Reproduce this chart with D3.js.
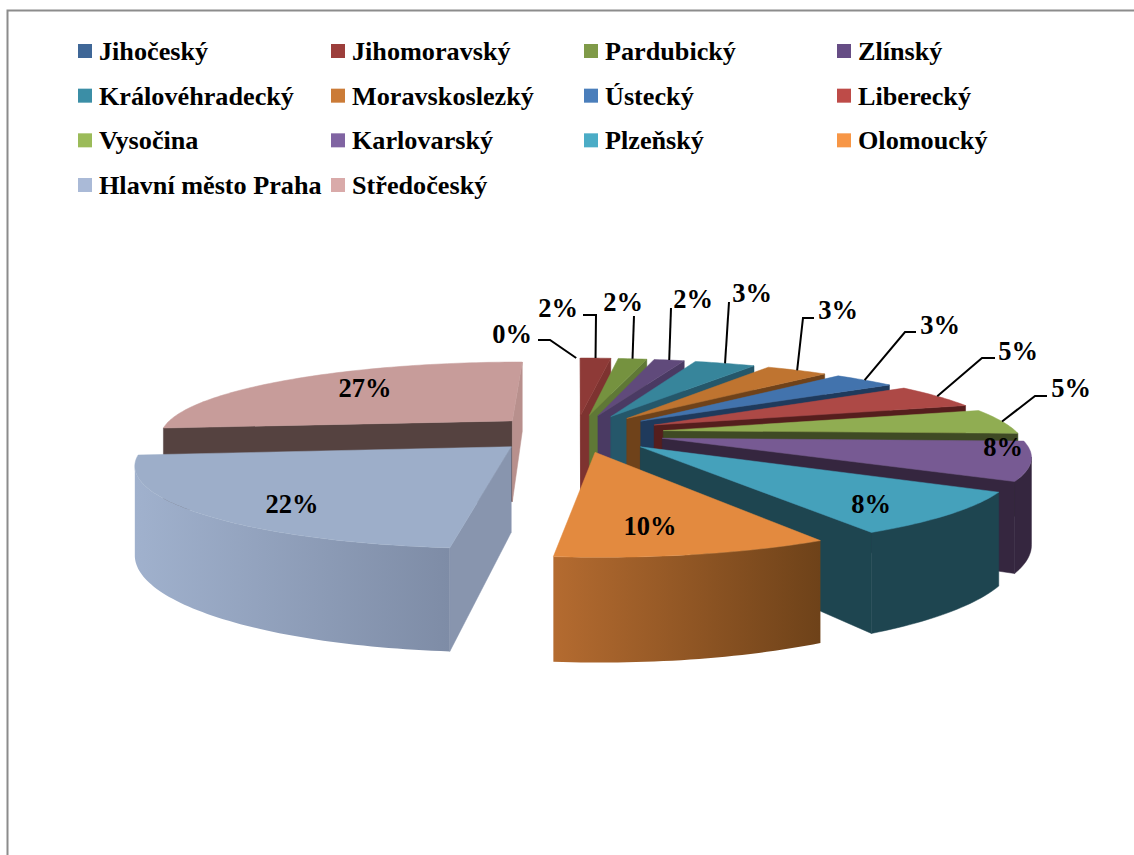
<!DOCTYPE html>
<html lang="en">
<head>
    <meta charset="UTF-8">
    <title>Kraje</title>
    <script src="https://cdn.jsdelivr.net/npm/d3@7"></script>
    <style>
        html, body { margin: 0; padding: 0; background: #fff; }
        svg { display: block; }
        text { font-family: "Liberation Serif", serif; font-weight: bold; fill: #000; }
    </style>
</head>
<body>
    <div id="chart-space"></div>

    <script>
        var regions = ["Jihočeský", "Jihomoravský", "Pardubický", "Zlínský",
            "Královéhradecký", "Moravskoslezký", "Ústecký", "Liberecký",
            "Vysočina", "Karlovarský", "Plzeňský", "Olomoucký",
            "Hlavní město Praha", "Středočeský"];

        // shares in percent
        var shares = [0.02, 1.7, 1.6, 1.7, 3.4, 3.45, 3.45, 5.05, 5.2, 7.83, 8.4, 9.8, 21.8, 26.6];

        var legendColors = ["#3f6797", "#9c3e3b", "#7f9a48", "#664d85", "#3b8ea6", "#cb7b37",
            "#4a7ebb", "#be4b48", "#9bbb59", "#8064a2", "#4bacc6", "#f79646", "#aabad7", "#d9aaa9"];
        var topColors = ["#3a5f8c", "#8e3a37", "#75923f", "#604a7b", "#37859b", "#bf7430",
            "#4273ad", "#ad4946", "#90ad52", "#775a93", "#45a1bb", "#e38a3f", "#9daec9", "#c79c9a"];
        var wallColors = ["#2c4a6e", "#7e3330", "#5f7836", "#4a3a63", "#25576a", "#6f421a",
            "#1f3a5c", "#551e1d", "#3f4a24", "#35263f", "#1e4550", "#6e4219", "#8895ae", "#b8908d"];
        var rimLeft = {"Olomoucký": "#b46b30", "Hlavní město Praha": "#a0b1cd"};
        var rimRight = {"Olomoucký": "#6e4219", "Hlavní město Praha": "#7e8ca6"};
        var backWall = {"Středočeský": "#554240"};

        // label text position and leader start / elbow (null = label sits on the slice)
        var labelAt = [[512, 334], [558, 308], [623, 302], [693, 299], [752, 293], [838, 310],
            [940, 325], [1018, 351], [1071, 388], [1003, 447], [871, 504], [650, 526], [292, 504], [365, 388]];
        var leaderFrom = [[538, 340], [583, 315], null, null, null, [814, 318],
            [916, 332], [995, 358], [1047, 396], null, null, null, null, null];
        var leaderElbow = [[550, 340], [596, 315], [634, 316], [671, 308], [729, 302], [803, 318],
            [905, 332], [982, 358], [1035, 396], null, null, null, null, null];

        var width = 1134;
        var height = 855;
        var explode = 0.25;
        var depth = 83;
        var perspX = 0.19, perspY = 0.2, perspH = 0.17;

        var xScale = d3.scaleLinear().domain([-1, 1]).range([576 - 354, 576 + 354]);
        var yScale = d3.scaleLinear().domain([-1, 1]).range([433 - 75, 433 + 75]);

        var svg = d3.select("#chart-space")
            .append("svg")
            .attr("width", width)
            .attr("height", height);

        var defs = svg.append("defs");

        // frame
        svg.append("path")
            .attr("d", "M1134,10.5H7.5V855")
            .attr("fill", "none")
            .attr("stroke", "#8c8c8c")
            .attr("stroke-width", 2);

        // legend
        var legendCols = d3.scalePoint().domain([0, 1, 2, 3]).range([78, 837]);
        var legendRows = d3.scalePoint().domain([0, 1, 2, 3]).range([52, 186]);

        var legend = svg.selectAll(".legend")
            .data(regions)
            .join("g")
            .attr("class", "legend")
            .attr("transform", function(d, i) {
                return "translate(" + legendCols(i % 4) + "," + legendRows(Math.floor(i / 4)) + ")";
            });

        legend.append("rect")
            .attr("x", 0)
            .attr("y", -8)
            .attr("width", 14)
            .attr("height", 14)
            .attr("fill", function(d, i) { return legendColors[i]; });

        legend.append("text")
            .attr("x", 21)
            .attr("y", 8)
            .style("font-size", "26.2px")
            .text(function(d) { return d; });

        // pie angles, clockwise from twelve o'clock
        var pie = d3.pie().sort(null).value(function(d) { return d; });
        var arcs = pie(shares).map(function(a, i) {
            var mid = (a.startAngle + a.endAngle) / 2;
            return {
                i: i,
                start: a.startAngle,
                end: a.endAngle,
                mid: mid,
                u0: explode * Math.sin(mid),
                v0: -explode * Math.cos(mid)
            };
        });

        function project(u, v, down) {
            var x = xScale(u / (1 - perspX * v));
            var y = yScale(v / (1 - perspY * v));
            if (down) y += depth / (1 - perspH * v);
            return [x, y];
        }

        function apex(s, down) {
            return project(s.u0, s.v0, down);
        }

        function rim(s, angle, down) {
            return project(s.u0 + Math.sin(angle), s.v0 - Math.cos(angle), down);
        }

        function facing(quad) {
            return d3.polygonArea(quad) > 0;
        }

        var line = d3.line();

        function drawFace(g, quad, fill, noStroke) {
            g.append("path")
                .attr("d", line(quad) + "Z")
                .attr("fill", fill)
                .attr("stroke", noStroke ? "none" : fill)
                .attr("stroke-width", 0.5);
        }

        var slices = svg.append("g");

        // back slices first so the nearer ones cover them
        arcs.slice().sort(function(a, b) { return d3.ascending(a.v0, b.v0); }).forEach(function(s) {
            // a slice thinner than a pixel only keeps its leader
            if (s.end - s.start < 0.005) return;

            var name = regions[s.i];
            var g = slices.append("g");
            var steps = Math.max(2, Math.ceil((s.end - s.start) / 0.02));
            var angles = d3.range(steps + 1).map(function(k) { return s.start + (s.end - s.start) * k / steps; });

            // straight walls along both cut edges
            var startWall = [apex(s), rim(s, s.start), rim(s, s.start, true), apex(s, true)];
            var endWall = [rim(s, s.end), apex(s), apex(s, true), rim(s, s.end, true)];
            if (facing(startWall)) drawFace(g, startWall, backWall[name] || wallColors[s.i]);
            if (facing(endWall)) drawFace(g, endWall, wallColors[s.i]);

            // curved outer wall, one polygon over the part that faces the viewer
            var rimFill = wallColors[s.i];
            if (rimLeft[name]) {
                var gradId = "rim" + s.i;
                var xs = angles.map(function(a) { return rim(s, a)[0]; });
                var grad = defs.append("linearGradient")
                    .attr("id", gradId)
                    .attr("gradientUnits", "userSpaceOnUse")
                    .attr("x1", d3.min(xs)).attr("x2", d3.max(xs))
                    .attr("y1", 0).attr("y2", 0);
                grad.append("stop").attr("offset", 0).attr("stop-color", rimLeft[name]);
                grad.append("stop").attr("offset", 1).attr("stop-color", rimRight[name]);
                rimFill = "url(#" + gradId + ")";
            }
            var front = d3.pairs(angles).filter(function(p) {
                return facing([rim(s, p[1]), rim(s, p[1], true), rim(s, p[0], true), rim(s, p[0])]);
            });
            if (front.length) {
                var run = [front[0][0]].concat(front.map(function(p) { return p[1]; }));
                var outer = run.map(function(a) { return rim(s, a); })
                    .concat(run.slice().reverse().map(function(a) { return rim(s, a, true); }));
                drawFace(g, outer, rimFill, !!rimLeft[name]);
            }

            // top face
            var top = [apex(s)].concat(angles.map(function(a) { return rim(s, a); }));
            drawFace(g, top, topColors[s.i]);
        });

        // leaders
        arcs.forEach(function(s) {
            if (!leaderElbow[s.i]) return;
            var pts = [];
            if (leaderFrom[s.i]) pts.push(leaderFrom[s.i]);
            pts.push(leaderElbow[s.i]);
            pts.push(rim(s, s.mid));
            svg.append("path")
                .attr("d", line(pts))
                .attr("fill", "none")
                .attr("stroke", "#000")
                .attr("stroke-width", 2);
        });

        // percent labels
        svg.selectAll(".pct")
            .data(shares)
            .join("text")
            .attr("class", "pct")
            .attr("x", function(d, i) { return labelAt[i][0]; })
            .attr("y", function(d, i) { return labelAt[i][1] + 8.5; })
            .attr("text-anchor", "middle")
            .style("font-size", "26.5px")
            .text(function(d) { return Math.round(d) + "%"; });
    </script>
</body>
</html>
